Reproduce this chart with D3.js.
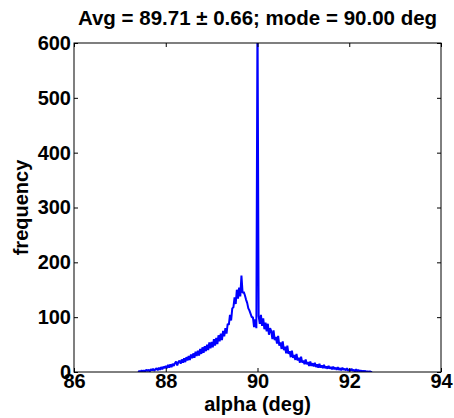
<!DOCTYPE html>
<html>
<head>
<meta charset="utf-8">
<script src="https://cdn.jsdelivr.net/npm/d3@7"></script>
<style>
  body { margin: 0; background: #fff; }
  text { font-family: "Liberation Sans", Arial, Helvetica, sans-serif; font-weight: bold; }
</style>
</head>
<body>
<script>
// histogram of alpha, bins of 0.025 deg starting at 87.4
const binStart = 87.4;
const binWidth = 0.025;
const counts = [
  0, 2, 0, 3,   1, 3, 1, 4,   2, 4, 1, 5,   3, 6, 2, 5,   7, 3, 8, 4,
  9, 5, 10, 7,   11, 7, 13, 8,   14, 9, 15, 11,   16, 19, 12, 18,   21, 15, 23, 17,
  25, 18, 27, 21,   29, 22, 32, 25,   34, 26, 37, 29,   39, 30, 42, 33,   45, 35, 47, 38,
  50, 40, 54, 43,   55, 45, 60, 48,   62, 51, 67, 56,   70, 58, 75, 65,   80, 70, 88, 86,
  104, 94, 116, 118,   136, 124, 150, 134,   154, 138, 176, 144,   146, 140, 132, 126,   116, 112, 106, 100,
  100, 82, 96, 80,   660, 102, 88, 104,   84, 98, 78, 90,   74, 88, 68, 80,   74, 60, 76, 58,
  64, 52, 66, 48,   54, 42, 56, 40,   46, 34, 48, 33,   38, 27, 39, 26,   31, 22, 33, 21,
  26, 17, 28, 17,   21, 14, 23, 14,   18, 11, 19, 11,   16, 10, 17, 9,   14, 8, 15, 8,
  12, 7, 13, 7,   10, 6, 11, 6,   9, 5, 10, 5,   8, 4, 9, 4,   7, 3, 8, 4,
  6, 3, 7, 2,   5, 2, 6, 2,   4, 1, 5, 1,   4, 1, 3, 1,   2, 1, 2, 0,
  1, 0, 1, 0,   0
];
const xTicks = [86, 88, 90, 92, 94];
const yTicks = [0, 100, 200, 300, 400, 500, 600];
const titleText = "Avg = 89.71 \u00b1 0.66; mode = 90.00 deg";
const xLabel = "alpha (deg)";
const yLabel = "frequency";

const width = 454, height = 418;
const margin = {top: 43, right: 13, bottom: 46, left: 74};
const iw = width - margin.left - margin.right;
const ih = height - margin.top - margin.bottom;

const x = d3.scaleLinear().domain([86, 94]).range([0, iw]);
const y = d3.scaleLinear().domain([0, 600]).range([ih, 0]);

const svg = d3.select("body").append("svg")
  .attr("width", width)
  .attr("height", height);

const g = svg.append("g")
  .attr("transform", `translate(${margin.left},${margin.top})`);

g.append("clipPath").attr("id", "clip")
  .append("rect").attr("width", iw).attr("height", ih);

const line = d3.line()
  .x((d, i) => x(binStart + i * binWidth))
  .y(d => y(d));

g.append("path")
  .datum(counts)
  .attr("clip-path", "url(#clip)")
  .attr("fill", "none")
  .attr("stroke", "#0000ff")
  .attr("stroke-width", 2)
  .attr("stroke-linejoin", "bevel")
  .attr("d", line);

// box
g.append("rect")
  .attr("width", iw).attr("height", ih)
  .attr("fill", "none").attr("stroke", "#000").attr("stroke-width", 1);

const styleAxis = sel => {
  sel.select(".domain").remove();
  sel.selectAll(".tick line").attr("stroke", "#000");
  sel.selectAll("text").attr("fill", "#000").attr("font-size", 20);
};

g.append("g")
  .attr("transform", `translate(0,${ih})`)
  .call(d3.axisBottom(x).tickValues(xTicks).tickSizeInner(-4).tickSizeOuter(0).tickPadding(2))
  .call(styleAxis);

g.append("g")
  .call(d3.axisLeft(y).tickValues(yTicks).tickSizeInner(-4).tickSizeOuter(0).tickPadding(3))
  .call(styleAxis);

g.append("g")
  .call(d3.axisTop(x).tickValues(xTicks).tickSizeInner(-4).tickSizeOuter(0).tickFormat(""))
  .call(styleAxis);

g.append("g")
  .attr("transform", `translate(${iw},0)`)
  .call(d3.axisRight(y).tickValues(yTicks).tickSizeInner(-4).tickSizeOuter(0).tickFormat(""))
  .call(styleAxis);

svg.append("text")
  .attr("x", margin.left + iw / 2)
  .attr("y", 25)
  .attr("text-anchor", "middle")
  .attr("font-size", 20.5)
  .text(titleText);

svg.append("text")
  .attr("x", margin.left + iw / 2)
  .attr("y", 411)
  .attr("text-anchor", "middle")
  .attr("font-size", 20)
  .text(xLabel);

svg.append("text")
  .attr("transform", `translate(28,${margin.top + ih / 2}) rotate(-90)`)
  .attr("text-anchor", "middle")
  .attr("font-size", 20)
  .text(yLabel);
</script>
</body>
</html>
